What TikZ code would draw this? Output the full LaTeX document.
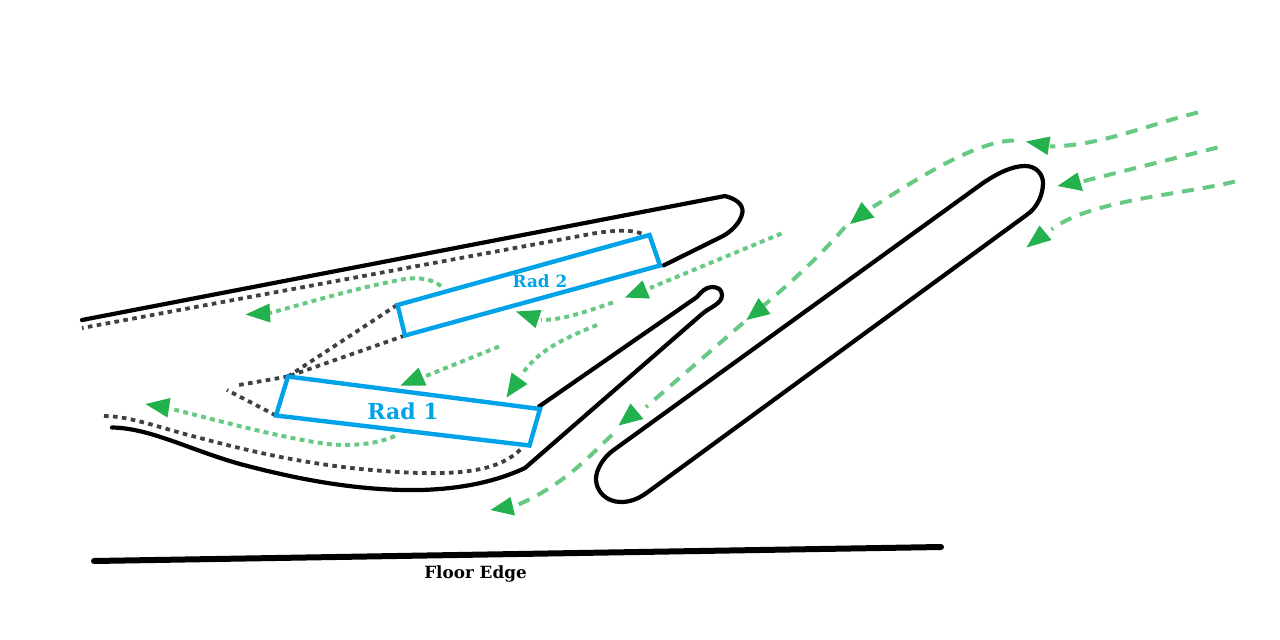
\documentclass[tikz,border=0pt]{standalone}
\usepackage{fontspec}
\newfontfamily\diagramfont{DejaVu Serif}
\definecolor{radblue}{HTML}{00A2E8}
\definecolor{tipgreen}{HTML}{22B14C}
\definecolor{flowgreen}{HTML}{68C985}
\definecolor{hiddengray}{HTML}{404040}
\tikzset{
  body/.style={draw=black, line width=4.2pt, line join=round, line cap=round},
  hidden/.style={draw=hiddengray, line width=3.8pt, dash pattern=on 4.6pt off 4.4pt},
  rad/.style={draw=radblue, line width=4.4pt, line join=miter},
  flowdot/.style={draw=flowgreen, line width=4pt, dash pattern=on 5pt off 4.2pt},
  flowdash/.style={draw=flowgreen, line width=4pt, dash pattern=on 12pt off 9pt},
  flowtip/.style={fill=tipgreen},
  radlabel/.style={text=radblue, inner sep=0pt},
}
\begin{document}
\begin{tikzpicture}[x=1pt,y=-1pt]
\useasboundingbox (0,0) rectangle (1280,640);
% wing sections
\draw[body] (82,320) -- (725,196) .. controls (736,199) and (743,204) .. (742.5,212) .. controls (741,222) and (732,231) .. (723,236) -- (663.5,265.5);
\draw[body] (112,427.5) .. controls (150,428) and (190,450) .. (240,464) .. controls (300,480) and (360,491) .. (420,490) .. controls (460,489) and (495,482) .. (525,468) -- (702,314) .. controls (710,307) and (722,304) .. (722,295) .. controls (722,289) and (717,287) .. (712,287) .. controls (706,287) and (701,292) .. (697,297) -- (539,406.5);
\draw[body] (983,183) .. controls (998,173) and (1012,166) .. (1025,166) .. controls (1036,166) and (1043,174) .. (1043,183) .. controls (1043,195) and (1037,208) .. (1026.5,215) -- (646.5,493) .. controls (638,499) and (630,502) .. (621,502) .. controls (606,502) and (596,491) .. (596,479) .. controls (596,469) and (604,457) .. (613,450.5) -- cycle;
% floor
\draw[black, line width=6pt, line cap=round] (94,561) -- (941,547);
\node[font=\diagramfont\bfseries\fontsize{16.8}{20}\selectfont, inner sep=0pt] (floorlabel) at (475.5,574) {Floor Edge};
% hidden lines
\draw[hidden] (641.5,233.5) .. controls (630,229) and (610,231) .. (596,233) -- (82,328);
\draw[hidden] (104,416) .. controls (130,416) and (160,428) .. (200,438) .. controls (260,454) and (330,470) .. (420,473) .. controls (465,474) and (500,470) .. (521,449);
\draw[hidden] (397,305) -- (288,376.5);
\draw[hidden] (405,335.5) -- (288,376.5);
\draw[hidden] (288,376.5) -- (236,385.5);
\draw[hidden] (276,415.5) -- (227,390);
% radiators
\draw[rad] (397.5,305) -- (649.5,235) -- (660,265.5) -- (405,335.5) -- cycle;
\draw[rad] (288,376.5) -- (540,409) -- (529.5,445.5) -- (276,415.5) -- cycle;
\node[radlabel, font=\diagramfont\bfseries\fontsize{22}{26}\selectfont] (rad1) at (403,411) {Rad 1};
\node[radlabel, font=\diagramfont\bfseries\fontsize{16.8}{20}\selectfont] (rad2) at (540,281.5) {Rad 2};
% flow inside
\draw[flowdot] (441,286) .. controls (432,279) and (418,277) .. (405,279) .. controls (360,287) and (310,302) .. (270,313);
\draw[flowdot] (781.5,233.5) -- (650,288);
\draw[flowdot] (613,302.5) .. controls (590,310) and (565,320) .. (541,320);
\draw[flowdot] (597,325) .. controls (565,338) and (538,350) .. (521.5,375);
\draw[flowdot] (499,346.5) -- (426,376);
\draw[flowdot] (395,436) .. controls (375,445) and (345,447) .. (320,443) .. controls (270,435) and (220,421) .. (172,409);
% flow outside
\draw[flowdash] (1014,140.5) .. controls (980,141) and (930,170) .. (873,207);
\draw[flowdash] (845,227) .. controls (825,250) and (800,275) .. (763,306);
\draw[flowdash] (743,323) -- (646,407);
\draw[flowdash] (612,435) .. controls (590,455) and (565,485) .. (515,506);
\draw[flowdash] (1198,112.5) .. controls (1150,124) and (1100,146) .. (1050,146.5);
\draw[flowdash] (1217.5,147.5) -- (1082,181.5);
\draw[flowdash] (1235,181.5) .. controls (1180,195) and (1090,200) .. (1051.5,229.5);
% arrowheads
\fill[flowtip] (245.5,314.5) -- (269.5,303.5) -- (270.5,322.5) -- cycle;
\fill[flowtip] (400.5,385.5) -- (418.5,367.5) -- (426.5,385.5) -- cycle;
\fill[flowtip] (145.5,404) -- (170.5,398) -- (167.5,417.5) -- cycle;
\fill[flowtip] (625,297.5) -- (642.5,280.5) -- (650,298.5) -- cycle;
\fill[flowtip] (516,311.5) -- (541.5,310) -- (535.5,328) -- cycle;
\fill[flowtip] (506.5,397.5) -- (511.5,372.5) -- (527.5,384) -- cycle;
\fill[flowtip] (746.5,320) -- (758.5,298) -- (770.5,314) -- cycle;
\fill[flowtip] (618.5,425.5) -- (630.5,403.5) -- (643.5,419) -- cycle;
\fill[flowtip] (490.5,510) -- (510.5,497) -- (515,515.5) -- cycle;
\fill[flowtip] (1026,141.5) -- (1050.5,136.5) -- (1047.5,155) -- cycle;
\fill[flowtip] (1057.5,186) -- (1077.5,172.5) -- (1083,191) -- cycle;
\fill[flowtip] (1026.5,247.5) -- (1039.5,225.5) -- (1051.5,240) -- cycle;
\fill[flowtip] (850,224) -- (861.5,202) -- (874.5,217.5) -- cycle;
\end{tikzpicture}
\end{document}
